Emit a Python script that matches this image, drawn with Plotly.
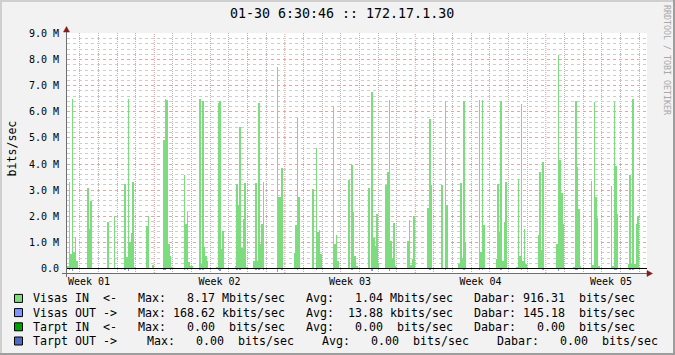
import plotly.graph_objects as go

# ---------------- data ----------------
STEP_H = 2.0                      # one bar = 2 hour average
X_RANGE_H = [0.0, 746.7]          # hours shown
WEEK_STARTS_H = [112.4, 280.4, 448.4, 616.4]
WEEK_LABEL_POS_H = [28.4, 196.4, 364.4, 532.4, 700.4]
WEEK_LABELS = ["Week 01", "Week 02", "Week 03", "Week 04", "Week 05"]
DAY_GRID_H = [16.4, 40.4, 64.4, 88.4, 136.4, 160.4, 184.4, 208.4, 232.4, 256.4,
              304.4, 328.4, 352.4, 376.4, 400.4, 424.4, 472.4, 496.4, 520.4,
              544.4, 568.4, 592.4, 640.4, 664.4, 688.4, 712.4, 736.4]

Y_TICKS = [0, 1, 2, 3, 4, 5, 6, 7, 8, 9]
Y_TICK_LABELS = ["0.0", "1.0 M", "2.0 M", "3.0 M", "4.0 M", "5.0 M",
                 "6.0 M", "7.0 M", "8.0 M", "9.0 M"]
Y_MINOR_STEP = 0.2

# Visas IN (Mbit/s), by 2-hour slot index
IN_SLOTS = [0, 1, 2, 3, 4, 5, 6,
            13, 14, 15, 16,
            26, 30,
            37, 38, 39, 40, 41, 42, 43,
            51, 52, 55,
            62, 63, 64, 65, 66, 67,
            75, 76, 77, 78, 79, 80,
            85, 86, 87, 88, 89, 90,
            96, 97, 98, 99, 100,
            108, 109, 110, 111, 112, 113, 114, 115,
            120, 121, 122, 123, 124, 125, 126,
            135, 136, 137, 138,
            146, 147, 148, 149,
            158, 160, 161, 162, 163,
            171, 172, 173, 174,
            181, 183, 184, 185, 186,
            194, 196, 197, 198, 199, 200,
            205, 206, 207, 208, 209, 210, 211,
            219, 220, 221, 222, 223,
            232, 233, 234,
            241, 243, 244,
            252, 253, 254, 255, 256,
            265, 266, 267, 268,
            276, 277, 278, 279, 280, 281, 282,
            289, 290, 291, 292, 293, 294, 295,
            303, 304, 305, 306,
            315, 316, 317, 318, 319,
            326, 327, 328, 329, 330,
            337, 338, 339, 340, 341, 342,
            350, 351, 352, 353, 354,
            361, 362, 363, 364, 365, 366, 367]
IN_MBPS = [0.10, 3.32, 0.55, 6.48, 0.65, 1.20, 0.27,
           3.10, 1.50, 2.60, 0.03,
           1.80, 2.00,
           3.25, 0.45, 6.50, 1.00, 1.35, 3.30, 0.05,
           1.64, 2.00, 0.15,
           4.93, 6.49, 6.44, 0.92, 0.49, 0.05,
           3.60, 1.70, 2.15, 0.23, 0.08, 0.08,
           6.48, 0.17, 6.40, 0.84, 0.49, 0.30,
           0.05, 6.33, 6.40, 0.74, 1.42,
           0.10, 3.22, 2.45, 5.41, 0.80, 1.88, 3.26, 0.05,
           0.30, 3.26, 0.30, 6.33, 0.92, 1.69, 3.30,
           7.71, 2.72, 2.72, 3.84,
           0.58, 1.65, 5.75, 2.72,
           3.03, 4.60, 1.38, 1.46, 0.54,
           6.21, 0.92, 1.30, 0.30,
           3.38, 3.95, 2.15, 0.46, 0.10,
           3.10, 6.75, 1.15, 0.88, 2.07, 0.20,
           3.18, 3.68, 6.45, 1.07, 0.42, 1.73, 0.08,
           1.07, 1.84, 0.15, 0.38, 2.00,
           2.30, 5.72, 3.18,
           3.18, 6.40, 2.45,
           0.19, 3.26, 0.42, 6.40, 0.96,
           6.45, 0.65, 6.45, 1.65,
           0.35, 3.22, 1.38, 6.40, 0.30, 1.80, 3.30,
           0.04, 3.41, 0.46, 6.29, 0.27, 1.53, 0.19,
           1.30, 3.68, 0.69, 4.07,
           0.92, 8.17, 4.14, 2.88, 1.69,
           0.04, 6.40, 3.87, 2.26, 0.10,
           3.34, 0.15, 6.37, 2.72, 1.92, 0.10,
           3.15, 0.08, 6.37, 3.91, 2.07,
           0.19, 3.57, 0.19, 6.48, 0.19, 1.69, 2.00]

# Visas OUT (Mbit/s), drawn below zero
OUT_SLOTS = [1, 3, 37, 39, 62, 63, 66,
             75, 77, 85, 87, 97, 98,
             109, 111, 121, 123, 126, 135, 138,
             148, 160, 171, 183, 196, 207,
             233, 243, 255, 265, 267, 279, 292,
             306, 316, 327, 328, 339, 352, 353, 362, 364]
OUT_MBPS = [0.05, 0.09, 0.05, 0.09, 0.05, 0.05, 0.05,
            0.05, 0.05, 0.04, 0.04, 0.05, 0.09,
            0.05, 0.05, 0.04, 0.04, 0.05, 0.15, 0.05,
            0.04, 0.04, 0.05, 0.05, 0.08, 0.08,
            0.05, 0.05, 0.04, 0.05, 0.05, 0.05, 0.05,
            0.05, 0.08, 0.05, 0.05, 0.05, 0.05, 0.05, 0.05, 0.05]

# legend
SERIES_NAMES = ["Visas IN  <-", "Visas OUT ->", "Tarpt IN  <-", "Tarpt OUT ->"]
SERIES_COLORS = ["#7ddc7d", "#8094ff", "#00a000", "#506cc0"]
MAX_VAL = [8.17, 168.62, 0.00, 0.00]
MAX_UNIT = ["M", "k", " ", " "]
AVG_VAL = [1.04, 13.88, 0.00, 0.00]
AVG_UNIT = ["M", "k", " ", " "]
NOW_VAL = [916.31, 145.18, 0.00, 0.00]
NOW_UNIT = [" ", " ", " ", " "]

TITLE = "01-30 6:30:46 :: 172.17.1.30"
Y_TITLE = "bits/sec"
WATERMARK = "RRDTOOL / TOBI OETIKER"

# ---------------- figure ----------------
W, H = 675, 355
PL, PR, PT, PB = 67, 647, 33, 273   # plot area in pixels
MONO = "DejaVu Sans Mono"


def px(xp):
    return (xp - PL) / (PR - PL)


def py(yp):
    return (PB - yp) / (PB - PT)


def rgba(hexc, a):
    h = hexc.lstrip("#")
    return "rgba(%d,%d,%d,%s)" % (int(h[0:2], 16), int(h[2:4], 16), int(h[4:6], 16), a)


def nb(s):
    return s.replace(" ", "\u00a0")


fig = go.Figure()
fig.add_trace(go.Bar(
    x=[s * STEP_H + STEP_H / 2 for s in IN_SLOTS], y=IN_MBPS, width=STEP_H,
    marker=dict(color=rgba(SERIES_COLORS[0], 0.999), line=dict(width=0)),
    hoverinfo="skip"))
fig.add_trace(go.Bar(
    x=[s * STEP_H + STEP_H / 2 for s in OUT_SLOTS], y=[-v for v in OUT_MBPS], width=STEP_H,
    marker=dict(color=rgba(SERIES_COLORS[1], 0.999), line=dict(width=0)),
    hoverinfo="skip"))

# y range so that 9.0 and 0 fall on pixel rows 33 and 268
scale = 235.0 / 9.0
y_top = 9.0 + 0.5 / scale
y_bot = -(PB - 268.5) / scale

n_minor = int(round(Y_TICKS[-1] / Y_MINOR_STEP))
y_minor = [round(k * Y_MINOR_STEP, 3) for k in range(1, n_minor)
           if abs(k * Y_MINOR_STEP - round(k * Y_MINOR_STEP)) > 1e-6]

GRID = "#b4b4b4"
GRID_H = "#cdcdcd"
MGRID = "#e69494"
MGRID_H = "#eaa3a3"

fig.update_layout(
    width=W, height=H,
    margin=dict(l=PL, r=W - PR, t=PT, b=H - PB, pad=0),
    paper_bgcolor="#f2f2f2", plot_bgcolor="#ffffff",
    showlegend=False, barmode="overlay", bargap=0,
    font=dict(family=MONO, color="#000000"),
    xaxis=dict(range=X_RANGE_H, tickmode="array", tickvals=WEEK_LABEL_POS_H,
               ticktext=WEEK_LABELS, showgrid=False, zeroline=False, showline=False,
               ticks="", ticklabelstandoff=1,
               tickfont=dict(family=MONO, size=10, color="#000000"),
               minor=dict(tickmode="array", tickvals=DAY_GRID_H, showgrid=True,
                          gridcolor=GRID, griddash="1px,1px", gridwidth=1, ticks="")),
    yaxis=dict(range=[y_bot, y_top], tickmode="array", tickvals=Y_TICKS,
               ticktext=Y_TICK_LABELS, showgrid=True, gridcolor=MGRID_H,
               griddash="dot", gridwidth=1, zeroline=False, showline=False,
               ticks="", ticklabelstandoff=7,
               tickfont=dict(family=MONO, size=10, color="#000000"),
               minor=dict(tickmode="array", tickvals=y_minor, showgrid=True, gridcolor=GRID_H,
                          griddash="dot", gridwidth=1, ticks="")),
)

shapes = []
# week major grid lines
for wx in WEEK_STARTS_H:
    shapes.append(dict(type="line", xref="x", yref="paper", x0=wx, x1=wx, y0=0, y1=1,
                       layer="between", line=dict(color=MGRID, width=1, dash="1px,1px")))
# zero rule
shapes.append(dict(type="line", xref="paper", yref="y", x0=px(66), x1=px(647), y0=0, y1=0,
                   layer="above", line=dict(color="#000000", width=1)))
# axes
AX = "#6e6e6e"
shapes.append(dict(type="line", xref="paper", yref="paper", x0=px(66.5), x1=px(66.5),
                   y0=py(277), y1=py(31), layer="above", line=dict(color=AX, width=1)))
shapes.append(dict(type="line", xref="paper", yref="paper", x0=px(62), x1=px(648),
                   y0=py(273.5), y1=py(273.5), layer="above", line=dict(color=AX, width=1)))
ARROW = "#801f1f"
shapes.append(dict(type="path", xref="paper", yref="paper", layer="above",
                   path="M %f %f L %f %f L %f %f Z" % (px(63.5), py(32), px(66.5), py(26.5), px(69.5), py(32)),
                   fillcolor=ARROW, line=dict(color=ARROW, width=0.5)))
shapes.append(dict(type="path", xref="paper", yref="paper", layer="above",
                   path="M %f %f L %f %f L %f %f Z" % (px(647), py(270.5), px(652.5), py(273.5), px(647), py(276.5)),
                   fillcolor=ARROW, line=dict(color=ARROW, width=0.5)))
# frame shading
shapes.append(dict(type="rect", xref="paper", yref="paper", x0=px(0), x1=px(W), y0=py(0), y1=py(2),
                   fillcolor="#cfcfcf", line=dict(width=0), layer="above"))
shapes.append(dict(type="rect", xref="paper", yref="paper", x0=px(0), x1=px(2), y0=py(0), y1=py(H),
                   fillcolor="#cfcfcf", line=dict(width=0), layer="above"))
shapes.append(dict(type="rect", xref="paper", yref="paper", x0=px(0), x1=px(W), y0=py(H - 2), y1=py(H),
                   fillcolor="#9e9e9e", line=dict(width=0), layer="above"))
shapes.append(dict(type="rect", xref="paper", yref="paper", x0=px(W - 2), x1=px(W), y0=py(0), y1=py(H),
                   fillcolor="#9e9e9e", line=dict(width=0), layer="above"))

annotations = []
annotations.append(dict(text=nb(TITLE), xref="paper", yref="paper", x=px(341.5), y=py(13.5),
                        xanchor="center", yanchor="middle", showarrow=False,
                        font=dict(family=MONO, size=13.3, color="#000000")))
annotations.append(dict(text=Y_TITLE, xref="paper", yref="paper", x=px(11), y=py(148.5),
                        xanchor="center", yanchor="middle", showarrow=False, textangle=-90,
                        font=dict(family=MONO, size=11.6, color="#000000")))
annotations.append(dict(text=nb(WATERMARK), xref="paper", yref="paper", x=px(667), y=py(60),
                        xanchor="center", yanchor="middle", showarrow=False, textangle=90,
                        font=dict(family=MONO, size=8.3, color="#a8a8a8")))

ROW_Y = [298.4, 312.6, 326.8, 341.0]
TXT_X = 30.7
for i, name in enumerate(SERIES_NAMES):
    ry = ROW_Y[i]
    shapes.append(dict(type="rect", xref="paper", yref="paper", x0=px(14.5), x1=px(22.5),
                       y0=py(ry + 4), y1=py(ry - 4), fillcolor=SERIES_COLORS[i],
                       line=dict(color="#000000", width=1), layer="above"))
    mx = "Max: %6.2f %sbits/sec" % (MAX_VAL[i], MAX_UNIT[i])
    av = "Avg: %6.2f %sbits/sec" % (AVG_VAL[i], AVG_UNIT[i])
    nw = "Dabar: %6.2f %sbits/sec" % (NOW_VAL[i], NOW_UNIT[i])
    if i < 3:
        pieces = [(TXT_X, name + "   " + mx + "   " + av + "   " + nw)]
    else:
        pieces = [(TXT_X, name), (144.6, mx), (319.8, av), (494.7, nw)]
    for xx, t in pieces:
        annotations.append(dict(text=nb(t), xref="paper", yref="paper", x=px(xx), y=py(ry),
                                xanchor="left", yanchor="middle", showarrow=False,
                                font=dict(family=MONO, size=11.63, color="#000000")))

fig.update_layout(shapes=shapes, annotations=annotations)
fig.write_html("out.html")
